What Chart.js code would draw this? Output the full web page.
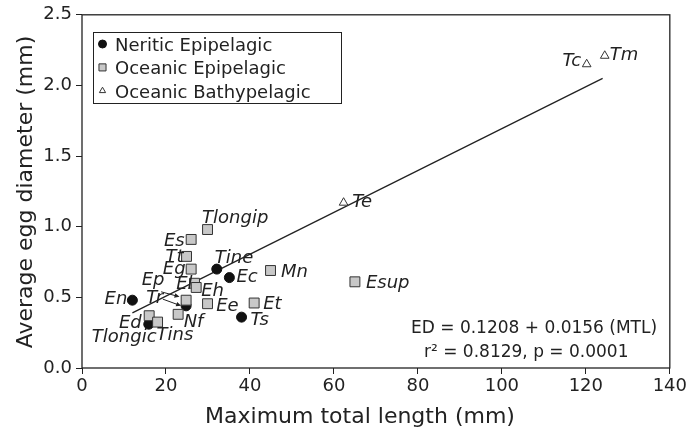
<!DOCTYPE html>
<html>
<head>
<meta charset="utf-8">
<script src="https://cdn.jsdelivr.net/npm/chart.js@4"></script>
<style>
  html, body { margin: 0; padding: 0; background: #fff; }
  #wrap { width: 689px; height: 432px; }
</style>
</head>
<body>
<div id="wrap"><canvas id="eggChart" width="689" height="432"></canvas></div>
<script>
// Species groups: name, maximum total length (mm), average egg diameter (mm)
const neriticNames = ['En', 'Ed', 'Tr', 'Tine', 'Ec', 'Ts'];
const neriticLength = [12.0, 15.9, 24.8, 32.1, 35.1, 38.0];
const neriticEgg = [0.48, 0.31, 0.44, 0.70, 0.64, 0.36];

const oceanicNames = ['Tlongip', 'Es', 'Tt', 'Eg', 'El', 'Eh', 'Ep', 'Nf', 'Ee', 'Et', 'Mn', 'Tlongic', 'Tins', 'Esup'];
const oceanicLength = [29.9, 26.0, 24.9, 26.0, 26.8, 27.2, 24.8, 22.9, 29.9, 41.0, 44.9, 16.0, 18.0, 65.0];
const oceanicEgg = [0.98, 0.91, 0.79, 0.70, 0.60, 0.57, 0.48, 0.38, 0.455, 0.46, 0.69, 0.37, 0.325, 0.61];

const bathyNames = ['Te', 'Tc', 'Tm'];
const bathyLength = [62.3, 120.2, 124.5];
const bathyEgg = [1.17, 2.15, 2.21];

// regression line end points
const fitLength = [12, 124];
const fitEgg = [0.39, 2.05];

const xTicks = [0, 20, 40, 60, 80, 100, 120, 140];
const yTicks = [0, 0.5, 1.0, 1.5, 2.0, 2.5];
const yTickLabels = ['0.0', '0.5', '1.0', '1.5', '2.0', '2.5'];

const groupLabels = ['Neritic Epipelagic', 'Oceanic Epipelagic', 'Oceanic Bathypelagic'];
const equationLines = ['ED = 0.1208 + 0.0156 (MTL)', 'r\u00B2 = 0.8129, p = 0.0001'];
const xTitle = 'Maximum total length (mm)';
const yTitle = 'Average egg diameter (mm)';

const INK = '#222';
const FONT = '"DejaVu Sans", "Liberation Sans", Arial, sans-serif';

// label placement relative to each marker (pixels)
const labelPlacement = {
    En: { dx: -5, dy: 4, align: 'right' },
    Ed: { dx: -7, dy: 3.5, align: 'right' },
    Tr: { dx: -23, dy: -3, align: 'right' },
    Tine: { dx: -2, dy: -6, align: 'left' },
    Ec: { dx: 7, dy: 4.5, align: 'left' },
    Ts: { dx: 9, dy: 7.5, align: 'left' },
    Tlongip: { dx: -5.5, dy: -7, align: 'left' },
    Es: { dx: -6.5, dy: 6.5, align: 'right' },
    Tt: { dx: -3, dy: 5.7, align: 'right' },
    Eg: { dx: -5.6, dy: 4.6, align: 'right' },
    El: { dx: -2, dy: 5.6, align: 'right' },
    Eh: { dx: 5, dy: 9, align: 'left' },
    Ep: { dx: -21.6, dy: -15, align: 'right' },
    Nf: { dx: 5.5, dy: 12.6, align: 'left' },
    Ee: { dx: 8.6, dy: 7.4, align: 'left' },
    Et: { dx: 9, dy: 6.2, align: 'left' },
    Mn: { dx: 10.4, dy: 6.7, align: 'left' },
    Tlongic: { dx: 7.4, dy: 26, align: 'right' },
    Tins: { dx: -1, dy: 18, align: 'left' },
    Esup: { dx: 11, dy: 5.7, align: 'left' },
    Te: { dx: 8.6, dy: 4.3, align: 'left' },
    Tc: { dx: -5.5, dy: 1.7, align: 'right' },
    Tm: { dx: 5, dy: 4.6, align: 'left' }
};

// small arrows from a label to its marker
const arrows = {
    Ep: { from: [-25, -8.4], to: [-6.6, -3.4] },
    Tr: { from: [-23.3, -6.7], to: [-5, 0] }
};

function toPoints(xs, ys) {
    return xs.map((x, i) => ({ x: x, y: ys[i] }));
}

const groupNames = [neriticNames, oceanicNames, bathyNames];

const groupStyles = [
    { pointStyle: 'circle', radius: 5, fill: '#111', border: '#111', legendRadius: 4 },
    { pointStyle: 'rect', radius: 7, fill: '#c8c8c8', border: '#333', legendRadius: 5 },
    { pointStyle: 'triangle', radius: 5, fill: '#fff', border: '#333', legendRadius: 3.6 }
];

function drawArrow(ctx, x1, y1, x2, y2) {
    const ang = Math.atan2(y2 - y1, x2 - x1);
    const head = 5;
    ctx.beginPath();
    ctx.moveTo(x1, y1);
    ctx.lineTo(x2 - Math.cos(ang) * head * 0.8, y2 - Math.sin(ang) * head * 0.8);
    ctx.stroke();
    ctx.beginPath();
    ctx.moveTo(x2, y2);
    ctx.lineTo(x2 - head * Math.cos(ang) + 2.3 * Math.sin(ang), y2 - head * Math.sin(ang) - 2.3 * Math.cos(ang));
    ctx.lineTo(x2 - head * Math.cos(ang) - 2.3 * Math.sin(ang), y2 - head * Math.sin(ang) + 2.3 * Math.cos(ang));
    ctx.closePath();
    ctx.fill();
}

const annotations = {
    id: 'annotations',
    afterDraw(chart) {
        const ctx = chart.ctx;
        const a = chart.chartArea;
        ctx.save();

        // plot frame
        ctx.strokeStyle = INK;
        ctx.lineWidth = 1.3;
        ctx.strokeRect(a.left, a.top, a.right - a.left, a.bottom - a.top);

        // species labels
        ctx.fillStyle = INK;
        ctx.lineWidth = 1;
        ctx.font = 'italic 18px ' + FONT;
        ctx.textBaseline = 'alphabetic';
        groupNames.forEach((names, i) => {
            const meta = chart.getDatasetMeta(i);
            meta.data.forEach((pt, j) => {
                const name = names[j];
                const p = labelPlacement[name];
                ctx.textAlign = p.align;
                ctx.fillText(name, pt.x + p.dx, pt.y + p.dy);
                const arr = arrows[name];
                if (arr) {
                    drawArrow(ctx, pt.x + arr.from[0], pt.y + arr.from[1], pt.x + arr.to[0], pt.y + arr.to[1]);
                }
            });
        });

        // legend box
        ctx.lineWidth = 1;
        ctx.strokeStyle = INK;
        ctx.strokeRect(93.5, 32.5, 248, 71);
        ctx.font = '18px ' + FONT;
        ctx.textAlign = 'left';
        groupLabels.forEach((label, i) => {
            const s = groupStyles[i];
            const cy = 44 + i * 23.4;
            ctx.fillStyle = s.fill;
            ctx.strokeStyle = s.border;
            ctx.lineWidth = 1;
            Chart.helpers.drawPoint(ctx, { pointStyle: s.pointStyle, radius: s.legendRadius, rotation: 0, borderWidth: 1 }, 102.5, cy);
            ctx.fillStyle = INK;
            ctx.fillText(label, 115, cy + 6.7);
        });

        // regression equation
        ctx.font = '17px ' + FONT;
        ctx.fillStyle = INK;
        ctx.fillText(equationLines[0], 411, 333);
        ctx.fillText(equationLines[1], 424, 357);

        // axis titles
        ctx.font = '22px ' + FONT;
        ctx.textAlign = 'center';
        ctx.fillText(xTitle, 360, 423);
        ctx.translate(31.5, 192);
        ctx.rotate(-Math.PI / 2);
        ctx.fillText(yTitle, 0, 0);

        ctx.restore();
    }
};

const datasets = groupNames.map((names, i) => {
    const s = groupStyles[i];
    const xs = [neriticLength, oceanicLength, bathyLength][i];
    const ys = [neriticEgg, oceanicEgg, bathyEgg][i];
    return {
        label: groupLabels[i],
        data: toPoints(xs, ys),
        pointStyle: s.pointStyle,
        pointRadius: s.radius,
        pointBackgroundColor: s.fill,
        pointBorderColor: s.border,
        pointBorderWidth: 1,
        order: [1, 0, 2][i]
    };
});

datasets.push({
    label: 'fit',
    data: toPoints(fitLength, fitEgg),
    showLine: true,
    borderColor: INK,
    borderWidth: 1.3,
    pointRadius: 0,
    order: 3
});

new Chart(document.getElementById('eggChart'), {
    type: 'scatter',
    data: { datasets: datasets },
    options: {
        responsive: false,
        animation: false,
        devicePixelRatio: 1,
        layout: { padding: { left: 0, top: 14, right: 17, bottom: 0 } },
        plugins: {
            legend: { display: false },
            tooltip: { enabled: false }
        },
        scales: {
            x: {
                type: 'linear',
                min: 0,
                max: 140,
                afterBuildTicks: scale => { scale.ticks = xTicks.map(v => ({ value: v })); },
                afterFit: scale => { scale.height = 64; },
                border: { display: false },
                grid: { drawOnChartArea: false, drawTicks: true, tickLength: 6, color: INK, lineWidth: 1 },
                ticks: { color: INK, font: { family: FONT, size: 18 }, padding: 2, maxRotation: 0 }
            },
            y: {
                type: 'linear',
                min: 0,
                max: 2.5,
                afterBuildTicks: scale => { scale.ticks = yTicks.map(v => ({ value: v })); },
                afterFit: scale => { scale.width = 82; },
                border: { display: false },
                grid: { drawOnChartArea: false, drawTicks: true, tickLength: 6, color: INK, lineWidth: 1 },
                ticks: {
                    color: INK,
                    font: { family: FONT, size: 18 },
                    padding: 4,
                    callback: (value, index) => yTickLabels[index]
                }
            }
        }
    },
    plugins: [annotations]
});
</script>
</body>
</html>
